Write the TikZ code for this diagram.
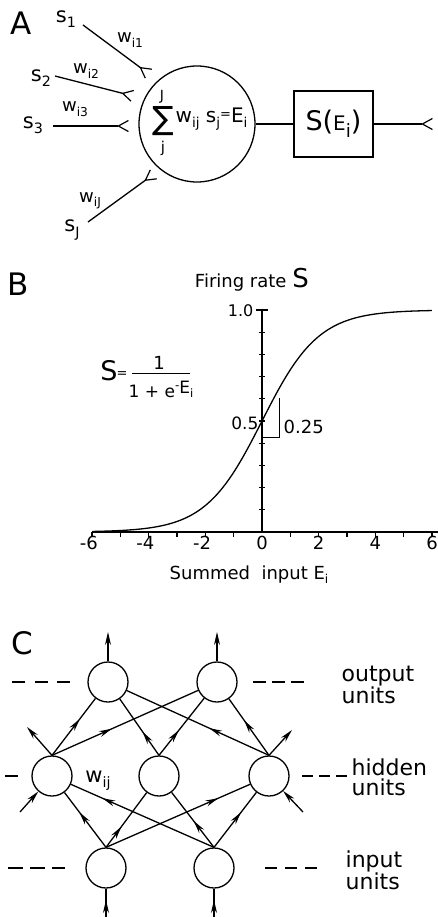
\documentclass[tikz,border=0pt]{standalone}
\usepackage{fontspec}
\setmainfont{DejaVu Sans}
\usetikzlibrary{arrows.meta,decorations.markings}
\makeatletter
\newcommand{\sub}[1]{\raisebox{-0.45ex}{\fontsize{\fpeval{0.68*\f@size}}{0}\selectfont #1}}
\newcommand{\super}[1]{\raisebox{0.8ex}{\fontsize{\fpeval{0.8*\f@size}}{0}\selectfont #1}}
\makeatother
\newcommand{\fsz}[1]{\fontsize{#1}{#1}\selectfont}

\begin{document}
\begin{tikzpicture}[
  x=1pt,y=-1pt,
  line width=1.3pt,
  >={Stealth[length=13pt,width=6pt]},
  panel/.style={font=\fsz{31}},
  cell/.style={circle,draw,minimum size=116pt,inner sep=0pt},
  actbox/.style={draw,minimum width=79pt,minimum height=66pt,inner sep=0pt,font=\fsz{27}},
  syn/.style={-{Straight Barb[reversed,length=10pt,width=11pt,line width=1.2pt]}},
  sig/.style={font=\fsz{21}},
  wlab/.style={font=\fsz{18}},
  unit/.style={circle,draw,minimum size=40pt,inner sep=0pt},
  midtip/.style={postaction={decorate},decoration={markings,mark=at position #1 with {\arrow{>}}}},
  ticklab/.style={font=\fsz{18},anchor=base},
  layer/.style={font=\fontsize{22}{20}\selectfont,align=left,anchor=west,inner sep=0pt},
  thin/.style={line width=1pt}
]
\useasboundingbox (0,0) rectangle (438,917);

% A: one unit with its inputs
\node[panel] (A) at (21,23) {A};
\node[cell] (cell) at (197,124) {};
\node (sigma) at (163,121) {\fsz{32}∑};
\node[font=\fsz{14}] (supJ) at (162,97) {J};
\node[font=\fsz{15}] (subj) at (163,148) {j};
\node[font=\fsz{20},anchor=base west,inner sep=0pt] (wsum) at (175,123) {w\sub{ij} s\sub{j}{\fsz{13}\raisebox{4pt}{=}}E\sub{i}};
\node[actbox] (act) at (333.5,124) {S({\fsz{20}E}\sub{i})};
\coordinate (out) at (433,124);
\draw (cell) -- (act);
\draw[syn] (act) -- (out);

\node[sig] (s1) at (66,19) {s\sub{1}};
\node[sig] (s2) at (41,78) {s\sub{2}};
\node[sig] (s3) at (33,125) {s\sub{3}};
\node[sig] (sJ) at (72,230) {s\sub{J}};
\node[wlab] (w1) at (130,40) {w\sub{i1}};
\node[wlab] (w2) at (86,71) {w\sub{i2}};
\node[wlab] (w3) at (75,109) {w\sub{i3}};
\node[wlab] (wJ) at (90,201) {w\sub{iJ}};
\coordinate (a1) at (83,25);  \coordinate (b1) at (149,74);
\coordinate (a2) at (55,76);  \coordinate (b2) at (133,96);
\coordinate (a3) at (53,126); \coordinate (b3) at (129,126);
\coordinate (aJ) at (88,222); \coordinate (bJ) at (154,174);
\foreach \k in {1,2,3,J}
  \draw[syn] (a\k) -- (b\k);

% B: logistic output function
\node[panel] (B) at (18,284) {B};
\node[anchor=base west,font=\fsz{18}] (ylab) at (191,287) {Firing rate {\fsz{26}S}};
\draw (262,532) -- (262,310);
\draw (256,310) -- (268,310);
\foreach \k in {1,...,9}
  \draw (259,{532-22.2*\k}) -- (265,{532-22.2*\k});
\draw (92,532) -- (438,532);
\foreach \k in {-6,...,-1,1,2,...,6}
  \draw ({262+28.33*\k},532) -- ++(0,5);
\node[ticklab] (t0) at (262,549) {0};
\foreach \k in {2,4,6}{
  \node[ticklab] (tp\k) at ({262+28.33*\k},549) {\k};
  \node[ticklab] (tn\k) at ({262-28.33*\k},549) {\llap{-}\k};
}
\draw plot[domain=-6:6,samples=120,smooth] ({262+28.33*\x},{532-222/(1+exp(-\x))});
\draw[thin] (279,398) -- (279,437) -- (262,437);
\node[anchor=base east,font=\fsz{16},inner sep=1pt] (one) at (255,316) {1.0};
\node[anchor=base east,font=\fsz{17},inner sep=1pt] (half) at (260,429) {0.5};
\node[anchor=base west,font=\fsz{18},inner sep=1pt] (slope) at (282,433) {0.25};
\node[anchor=base,font=\fsz{18}] (xlab) at (249,579) {Summed\ \ input E\sub{i}};

\node[font=\fsz{27}] (S) at (109,371) {S};
\node[font=\fsz{13}] (eq) at (122,375) {=};
\node[font=\fsz{18}] (num) at (159,363) {1};
\node[font=\fsz{17}] (den) at (161,389) {1 + e\super{\fsz{12}-}\raisebox{4pt}{E\sub{i}}};
\draw[thin] (132,373) -- (190,373);

% C: three-layer network
\node[panel] (C) at (22,643) {C};
\node[unit] (o1) at (108,682) {};
\node[unit] (o2) at (217,682) {};
\node[unit] (h1) at (52,776) {};
\node[unit] (h2) at (159,776) {};
\node[unit] (h3) at (269,776) {};
\node[unit] (i1) at (106,868) {};
\node[unit] (i2) at (214,868) {};
\foreach \a/\b/\p in {i1/h1/0.64,i1/h2/0.38,i1/h3/0.78,i2/h1/0.78,i2/h2/0.48,i2/h3/0.64,
                      h1/o1/0.64,h1/o2/0.41,h2/o1/0.42,h2/o2/0.44,h3/o1/0.42,h3/o2/0.62}
  \draw[midtip=\p] (\a.north) -- (\b);

\coordinate (up1) at (108,632); \coordinate (up2) at (217,632);
\draw[->] (o1) -- (up1);
\draw[->] (o2) -- (up2);
\coordinate (hl) at (27,727);  \coordinate (hr) at (292,730);
\draw[->] (h1.north) -- (hl);
\draw[->] (h3.north) -- (hr);
\coordinate (hlin) at (20,812); \coordinate (hrin) at (303,812);
\draw[->] (hlin) -- (h1);
\draw[->] (hrin) -- (h3);
\coordinate (in1) at (106,917); \coordinate (in2) at (214,917);
\draw[midtip=0.6] (in1) -- (i1);
\draw[midtip=0.6] (in2) -- (i2);

\node[font=\fsz{21}] (wij) at (98,781) {w\sub{ij}};
\draw[dash pattern=on 13pt off 9.5pt] (12,682) -- (70,682);
\draw[dash pattern=on 13pt off 6pt] (253,682) -- (304,682);
\draw (5,776) -- (18,776);
\draw[dash pattern=on 11pt off 6pt] (302,776) -- (347,776);
\draw[dash pattern=on 15pt off 7pt] (8,868) -- (65,868);
\draw[dash pattern=on 12pt off 8pt] (265,868) -- (317,868);
\node[layer] (outlab) at (341,685) {output\\units};
\node[layer] (hidlab) at (351,777) {hidden\\units};
\node[layer] (inlab) at (345,870) {input\\units};
\end{tikzpicture}
\end{document}
